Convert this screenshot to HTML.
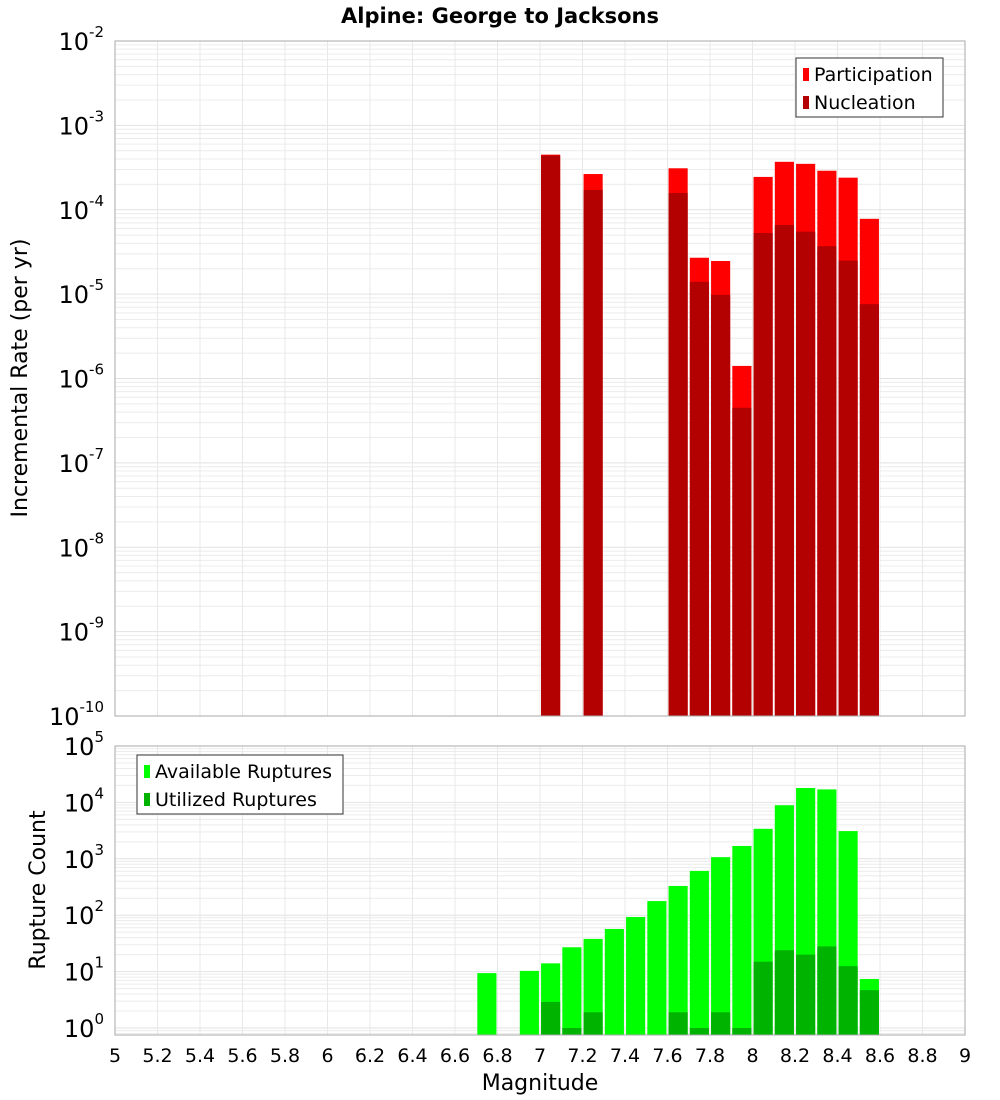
<!DOCTYPE html>
<html><head><meta charset="utf-8"><style>
body{margin:0;background:#fff}
svg{display:block;font-family:"Liberation Sans","DejaVu Sans",sans-serif}
</style></head><body>
<svg id="c" width="1000" height="1100" xmlns="http://www.w3.org/2000/svg">
<text x="500" y="23" text-anchor="middle" font-size="21" font-weight="bold" font-family="DejaVu Sans,sans-serif">Alpine: George to Jacksons</text>
<g id="topPlot"></g>
<g id="botPlot"></g>
</svg>
<script>
const bins=[7.05,7.25,7.65,7.75,7.85,7.95,8.05,8.15,8.25,8.35,8.45,8.55];
const participation=[4.5e-4,2.65e-4,3.1e-4,2.7e-5,2.47e-5,1.41e-6,2.45e-4,3.7e-4,3.5e-4,2.9e-4,2.4e-4,7.8e-5];
const nucleation=[4.4e-4,1.72e-4,1.58e-4,1.4e-5,9.8e-6,4.5e-7,5.3e-5,6.6e-5,5.5e-5,3.7e-5,2.5e-5,7.6e-6];
const countBins=[6.75,6.95,7.05,7.15,7.25,7.35,7.45,7.55,7.65,7.75,7.85,7.95,8.05,8.15,8.25,8.35,8.45,8.55];
const available=[9.4,10.3,14,27,38,57,93,178,330,610,1070,1690,3400,8900,18000,17000,3100,7.4];
const utilized=[0,0,2.9,1,1.9,0,0,0,1.9,1,1.9,1,15,24,20,28,12.5,4.7];
const xTicks=["5","5.2","5.4","5.6","5.8","6","6.2","6.4","6.6","6.8","7","7.2","7.4","7.6","7.8","8","8.2","8.4","8.6","8.8","9"];
const NS="http://www.w3.org/2000/svg";
const X0=115,X1=965;
const x=m=>X0+(m-5)/4*(X1-X0);
const TT=41,TB=716,BT=746,BB=1035;
const yT=v=>TT+(-2-Math.log10(v))*(TB-TT)/8;
const yB=v=>1028-56.4*Math.log10(v);
function el(p,t,a){const e=document.createElementNS(NS,t);for(const k in a)e.setAttribute(k,a[k]);p.appendChild(e);return e;}
function grid(g,t0,b0,yf,d0,d1){
  for(let d=d0;d<d1;d++)for(let k=1;k<10;k++){const y=yf(k*Math.pow(10,d));if(y<t0-0.5||y>b0+0.5)continue;
    const l=el(g,'line',{x1:X0,x2:X1,y1:y,y2:y,stroke:k==1?'#e2e2e2':'#ececec','stroke-width':1});
    
    }
  xTicks.forEach(t=>{const xx=x(+t);const l=el(g,'line',{x1:xx,x2:xx,y1:t0,y2:b0,stroke:'#e8e8e8'});
    
    });
}
function ylab(g,y,p){const t=el(g,'text',{x:104,y:y+9,'text-anchor':'end','font-size':24,'font-family':'DejaVu Sans,sans-serif'});
  
  
  t.appendChild(document.createTextNode('10'));
  const s=el(t,'tspan',{dy:-13,'font-size':15});s.textContent=String(p);}
const gTop=document.getElementById('topPlot'),gBot=document.getElementById('botPlot');
grid(gTop,TT,TB,yT,-10,-2);
grid(gBot,BT,BB,yB,-1,5);
const bw=x(5.09)-x(5);
bins.forEach((m,i)=>{
  const r=el(gTop,'rect',{x:x(m)-bw/2,y:yT(participation[i]),width:bw,height:TB-yT(participation[i]),fill:'#ff0000'});
  
  
  const n=el(gTop,'rect',{x:x(m)-bw/2,y:yT(nucleation[i]),width:bw,height:TB-yT(nucleation[i]),fill:'#b30000'});
  
  
});
countBins.forEach((m,i)=>{
  const r=el(gBot,'rect',{x:x(m)-bw/2,y:yB(available[i]),width:bw,height:BB-yB(available[i]),fill:'#00ff00'});
  
  
  if(utilized[i]>0){const u=el(gBot,'rect',{x:x(m)-bw/2,y:yB(utilized[i]),width:bw,height:BB-yB(utilized[i]),fill:'#00b300'});
  
  }
});
[[gTop,TT,TB],[gBot,BT,BB]].forEach(([g,a,b])=>{const f=el(g,'rect',{x:X0,y:a,width:X1-X0,height:b-a,fill:'none',stroke:'#aaa'});
  
  });
for(let p=-10;p<=-2;p++)ylab(gTop,yT(Math.pow(10,p)),p);
for(let p=0;p<=5;p++)ylab(gBot,yB(Math.pow(10,p)),p);
xTicks.forEach(t=>{const e=el(gBot,'text',{x:x(+t),y:1062,'text-anchor':'middle','font-size':19,'font-family':'DejaVu Sans,sans-serif'});
  
  
  e.textContent=t;});
function txt(g,s,a,name){const e=el(g,'text',a);e.textContent=s;return e;}
txt(gBot,'Magnitude',{x:540,y:1090,'text-anchor':'middle','font-size':22,'font-family':'DejaVu Sans,sans-serif'},'x-axis-title');
txt(gTop,'Incremental Rate (per yr)',{transform:'translate(27,378) rotate(-90)','text-anchor':'middle','font-size':22,'font-family':'DejaVu Sans,sans-serif'},'y-axis-title');
txt(gBot,'Rupture Count',{transform:'translate(45,890) rotate(-90)','text-anchor':'middle','font-size':22,'font-family':'DejaVu Sans,sans-serif'},'y-axis-title-bottom');
function legend(g,x0,y0,w,h,items,name){
  const lg=el(g,'g',{});
  
  
  el(lg,'rect',{x:x0,y:y0,width:w,height:h,fill:'#fff',stroke:'#333'});
  items.forEach(([c,s],i)=>{const yy=y0+17+i*28;
    el(lg,'rect',{x:x0+7,y:yy-7,width:6,height:13,fill:c});
    txt(lg,s,{x:x0+18,y:yy+6,'font-size':19,'font-family':'DejaVu Sans,sans-serif'},'legend-entry');});
}
legend(gTop,796,58,147,59,[['#ff0000','Participation'],['#b30000','Nucleation']],'rate-legend');
legend(gBot,137,755,206,59,[['#00ff00','Available Ruptures'],['#00b300','Utilized Ruptures']],'count-legend');
</script>
</body></html>
